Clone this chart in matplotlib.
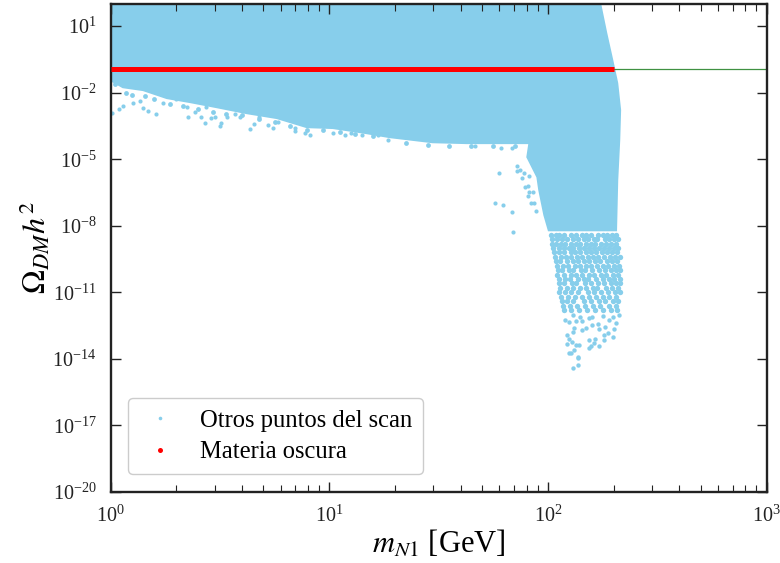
import numpy as np
import matplotlib
import matplotlib.pyplot as plt
from matplotlib.lines import Line2D
from matplotlib.ticker import FixedLocator, LogFormatterMathtext
matplotlib.use('Agg')

plt.rcParams['font.family'] = ['Liberation Serif', 'DejaVu Serif']
plt.rcParams['mathtext.fontset'] = 'stix'

BLUE = '#87CEEB'

# solid part of the scan, outline (GeV, log10 of relic)
region_mass = [1.0, 1.14, 1.41, 1.81, 2.31, 3.06, 4.2, 5.76, 7.9, 10.4, 14.8, 18.9,
               29.7, 42.5, 60, 82.4, 80.6, 89.6, 91.4, 96.4, 101, 205, 207.6, 212,
               214, 207.6, 197, 185, 174, 172, 1.0]
region_log = [-1.43, -1.75, -1.88, -2.24, -2.42, -2.65, -2.92, -3.14, -3.55, -3.59,
              -3.82, -4.0, -4.23, -4.27, -4.27, -4.27, -4.9, -5.8, -6.39, -7.51,
              -8.2, -8.2, -5.94, -4.14, -2.78, -1.57, -0.53, 0.68, 1.95, 2.1, 2.1]

# loose points under the lower edge
edge_logmass = [0.008, 0.04, 0.056, 0.104, 0.135, 0.15, 0.173, 0.206, 0.238, 0.299,
                0.348, 0.355, 0.386, 0.416, 0.432, 0.436, 0.458, 0.477, 0.5, 0.505,
                0.535, 0.568, 0.591, 0.637, 0.657, 0.679, 0.72, 0.741, 0.766, 0.842,
                0.846, 0.888, 0.911, 1.017, 1.074, 1.101, 1.15, 1.223, 1.27, 1.668,
                1.785, 1.835, 1.777, 1.859, 1.857, 1.871, 1.88, 1.893, 1.916, 1.896,
                1.911, 1.912, 1.911, 1.931, 1.923, 1.938, 1.946, 1.76, 1.797, 1.838,
                1.842]
edge_log = [-2.91, -2.75, -2.6, -2.48, -2.38, -2.68, -2.81, -2.96, -2.45, -2.29,
            -2.66, -3.08, -2.86, -3.11, -3.36, -2.63, -3.16, -3.08, -3.5, -3.38,
            -3.08, -2.96, -3.11, -3.64, -3.4, -3.08, -3.47, -3.6, -3.31, -3.73,
            -3.58, -3.81, -3.92, -3.81, -3.92, -3.83, -3.92, -3.92, -4.15, -4.39,
            -4.5, -4.5, -5.64, -5.31, -5.53, -5.47, -5.86, -5.61, -5.76, -6.24,
            -6.19, -6.46, -6.66, -6.46, -6.96, -6.99, -7.33, -6.97, -7.05, -7.38,
            -8.27]

# points hugging the lower edge, they make it rough
rough_logmass = [0.02, 0.07, 0.1, 0.16, 0.2, 0.27, 0.33, 0.4, 0.47, 0.53, 0.6, 0.68,
                 0.75, 0.82, 0.9, 0.97, 1.05, 1.12, 1.2, 1.35, 1.45, 1.55, 1.65, 1.75, 1.85]
rough_log = [-1.6, -2.0, -2.1, -2.15, -2.3, -2.5, -2.6, -2.75, -2.85, -2.95, -3.0, -3.2,
             -3.3, -3.5, -3.7, -3.7, -3.75, -3.85, -3.95, -4.25, -4.35, -4.38, -4.38, -4.38, -4.38]

# mottled part below the solid region, one log10 level with its masses per row
mottled_rows = [
    (-8.4, [103, 109, 113, 119, 127, 135, 143, 150, 158, 170, 178, 186, 196, 206]),
    (-8.6, [104, 110, 116, 123, 130, 137, 146, 153, 162, 168, 182, 191, 201, 209]),
    (-8.8, [105, 109, 115, 120, 128, 134, 141, 149, 157, 165, 175, 185, 194, 205]),
    (-9.0, [106, 112, 118, 125, 131, 139, 146, 155, 163, 172, 180, 190, 200, 210]),
    (-9.2, [107, 113, 119, 127, 133, 141, 149, 157, 166, 176, 186, 197, 208]),
    (-9.4, [108, 115, 121, 128, 136, 144, 153, 161, 170, 181, 192, 203, 213]),
    (-9.6, [109, 114, 122, 130, 138, 146, 155, 165, 174, 186, 196, 207]),
    (-9.8, [110, 117, 124, 133, 140, 150, 158, 168, 179, 189, 200, 212]),
    (-10.0, [111, 116, 125, 131, 142, 148, 160, 171, 182, 194, 205, 213]),
    (-10.2, [110, 118, 127, 135, 144, 154, 163, 175, 185, 199, 209]),
    (-10.4, [112, 120, 126, 137, 146, 152, 166, 178, 190, 201, 213]),
    (-10.6, [113, 119, 129, 134, 148, 158, 170, 180, 194, 206, 214]),
    (-10.8, [114, 122, 131, 140, 150, 161, 168, 184, 197, 210]),
    (-11.0, [113, 120, 128, 138, 152, 163, 175, 188, 202, 214]),
    (-11.2, [115, 124, 133, 143, 155, 166, 179, 191, 205]),
    (-11.4, [116, 122, 130, 146, 158, 171, 183, 198, 210]),
    (-11.6, [117, 126, 136, 148, 161, 174, 190, 204]),
    (-11.8, [118, 128, 139, 151, 165, 178, 194, 208]),
]

# sparse tail at the very bottom
tail_mass = [131, 137, 138, 137, 128, 125, 132, 139, 135, 123, 129, 125, 122, 130, 132,
             144, 149, 155, 154, 157, 163, 165, 171, 181, 181, 198, 188, 183, 201, 205,
             171, 169, 159, 212, 198, 190, 178, 120, 125, 135, 144, 155, 159, 141, 130]
tail_log = [-14.39, -14.28, -13.97, -13.9, -13.74, -13.73, -13.6, -13.37, -13.37, -13.33,
            -13.22, -13.11, -12.92, -12.77, -12.62, -12.69, -12.62, -13.14, -13.52, -13.41,
            -13.29, -13.09, -13.41, -13.14, -12.92, -12.99, -12.81, -12.55, -12.65, -12.39,
            -12.66, -12.42, -12.47, -12.02, -12.09, -12.24, -12.06, -12.24, -12.32, -12.27,
            -12.27, -12.17, -12.09, -12.09, -12.02]

# points that give the observed relic density
relic_mass = [1.0, 201]
relic_value = [0.115, 0.115]
planck_value = 0.115

ytick_exp = [-20, -17, -14, -11, -8, -5, -2, 1]

fig = plt.figure(figsize=(7.8, 5.63), dpi=100)
ax = fig.add_axes([110.5 / 780, 71 / 563, 656 / 780, 488 / 563])

ax.fill(region_mass, 10.0 ** np.array(region_log), color=BLUE, lw=1.5, zorder=1)

ax.axhline(planck_value, color='#3f9142', lw=0.9, zorder=1.5)

row_mass = []
row_log = []
for level, masses in mottled_rows:
    for m in masses:
        row_mass.append(m)
        row_log.append(level)

ax.scatter(10.0 ** np.array(edge_logmass), 10.0 ** np.array(edge_log), s=9, c=BLUE, lw=0, zorder=2)
ax.scatter(10.0 ** np.array(rough_logmass), 10.0 ** np.array(rough_log), s=12, c=BLUE, lw=0, zorder=2)
ax.scatter(row_mass, 10.0 ** np.array(row_log), s=15, c=BLUE, lw=0, zorder=2)
ax.scatter(tail_mass, 10.0 ** np.array(tail_log), s=10, c=BLUE, lw=0, zorder=2)

ax.plot(relic_mass, relic_value, color='red', lw=3.6, solid_capstyle='butt', zorder=3)

ax.set_xscale('log')
ax.set_yscale('log')
ax.set_xlim(1, 1000)
ax.set_ylim(1e-20, 1e2)

ax.yaxis.set_major_locator(FixedLocator([10.0 ** e for e in ytick_exp]))
ax.yaxis.set_major_formatter(LogFormatterMathtext())
ax.yaxis.set_minor_locator(FixedLocator([]))

ax.tick_params(axis='both', which='major', direction='in', length=7.5, width=1.0,
               labelsize=14.5, top=True, right=True, color='#222222', labelcolor='#222222', pad=10)
ax.tick_params(axis='x', which='minor', direction='in', length=5, width=0.8, top=True, color='#222222')
for s in ax.spines.values():
    s.set_linewidth(1.7)
    s.set_color('#222222')

ax.set_xlabel(r'$m_{N1}$ [GeV]', fontsize=22, labelpad=1)
ax.set_ylabel(r'$\Omega_{DM}h^2$', fontsize=23, labelpad=0)

handles = [Line2D([], [], ls='', marker='o', ms=2.6, color=BLUE, mew=0),
           Line2D([], [], ls='', marker='o', ms=3.6, color='red', mew=0)]
ax.legend(handles, ['Otros puntos del scan', 'Materia oscura'], loc='lower left',
          bbox_to_anchor=(0.0265, 0.0365), borderaxespad=0, fontsize=17.7,
          handlelength=1.75, handletextpad=0.73, labelspacing=0.38, borderpad=0.45, framealpha=1)

plt.savefig('out.png', dpi=100)
